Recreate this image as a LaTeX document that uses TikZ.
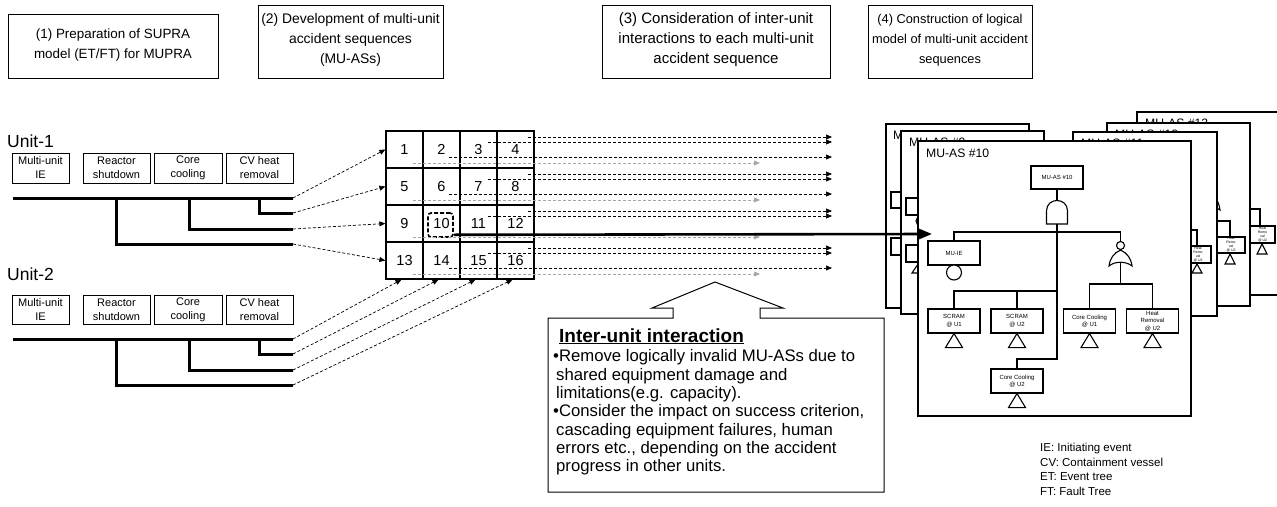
\documentclass[tikz,border=0pt]{standalone}
\usepackage{fontspec}
\setmainfont{Liberation Sans}
\usetikzlibrary{arrows.meta}
\begin{document}
\begin{tikzpicture}[x=1pt,y=-1pt,
  hdrbox/.style={draw, line width=1pt, inner sep=0pt},
  hdrtxt/.style={align=center, inner sep=0pt},
  unitlbl/.style={anchor=west, inner sep=0pt, font=\fontsize{17.5}{20}\selectfont},
  etbox/.style={draw, line width=0.9pt, align=center, inner sep=0pt, minimum height=30pt, font=\fontsize{11}{14}\selectfont},
  etline/.style={line width=3pt, line join=miter},
  cell/.style={draw, line width=1.2pt, minimum size=37pt, inner sep=0pt, font=\fontsize{14.5}{16}\selectfont},
  dasharr/.style={line width=0.7pt, dash pattern=on 3pt off 2pt, -{Triangle[length=6pt,width=5pt]}},
  greyarr/.style={dasharr, draw=black!35},
  frame/.style={draw, fill=white, line width=1.3pt},
  frlbl/.style={anchor=west, inner sep=0pt, font=\fontsize{12.2}{14}\selectfont},
  ftbox/.style={draw, fill=white, line width=1.1pt, align=center, inner sep=0pt, minimum width=52pt, minimum height=24pt, font=\fontsize{6}{7.5}\selectfont},
  ftline/.style={line width=1.1pt},
  tri/.style={draw, fill=white, line width=1.1pt, line join=miter},
  minibox/.style={draw, fill=white, line width=1.1pt, align=center, inner sep=0pt, font=\fontsize{3.5}{4}\selectfont}
]
\useasboundingbox (0,0) rectangle (1277,506);

% ---------- headers ----------
\node[hdrbox, minimum width=210pt, minimum height=64pt] (h1) at (113,46) {};
\node[hdrtxt, font=\fontsize{13.4}{20}\selectfont] (h1t) at (113,45) {(1) Preparation of SUPRA\\model (ET/FT) for MUPRA};
\node[hdrbox, minimum width=185pt, minimum height=73pt] (h2) at (350.5,41.5) {};
\node[hdrtxt, font=\fontsize{13.9}{20}\selectfont] (h2t) at (350.5,40) {(2) Development of multi-unit\\accident sequences\\(MU-ASs)};
\node[hdrbox, minimum width=228pt, minimum height=73pt] (h3) at (716,41.5) {};
\node[hdrtxt, font=\fontsize{15}{20}\selectfont] (h3t) at (716,40) {(3) Consideration of inter-unit\\interactions to each multi-unit\\accident sequence};
\node[hdrbox, minimum width=164pt, minimum height=73pt] (h4) at (950,41.5) {};
\node[hdrtxt, font=\fontsize{12.8}{20}\selectfont] (h4t) at (950,40) {(4) Construction of logical\\model of multi-unit accident\\sequences};

% ---------- event trees ----------
\node[unitlbl] (unit1) at (7,141) {Unit-1};
\node[unitlbl] (unit2) at (7,274.5) {Unit-2};

\node[etbox, minimum width=57pt] (u1a) at (40.5,168) {Multi-unit\\IE};
\node[etbox, minimum width=67pt] (u1b) at (116.5,168) {Reactor\\shutdown};
\node[etbox, minimum width=68pt] (u1c) at (188,168) {Core\\cooling};
\node[etbox, minimum width=67pt] (u1d) at (259.5,168) {CV heat\\removal};

\node[etbox, minimum width=57pt, minimum height=29pt] (u2a) at (40.5,309.5) {Multi-unit\\IE};
\node[etbox, minimum width=67pt, minimum height=29pt] (u2b) at (116.5,309.5) {Reactor\\shutdown};
\node[etbox, minimum width=68pt, minimum height=29pt] (u2c) at (188,309.5) {Core\\cooling};
\node[etbox, minimum width=67pt, minimum height=29pt] (u2d) at (259.5,309.5) {CV heat\\removal};

\coordinate (u1s) at (13,198);
\coordinate (u1e1) at (293,198);
\coordinate (u1e2) at (293,213);
\coordinate (u1e3) at (293,229);
\coordinate (u1e4) at (293,244);
\draw[etline] (u1s) -- (u1e1);
\draw[etline] (259,198) |- (u1e2);
\draw[etline] (189,198) |- (u1e3);
\draw[etline] (116,198) |- (u1e4);

\coordinate (u2s) at (13,339);
\coordinate (u2e1) at (293,339);
\coordinate (u2e2) at (293,354);
\coordinate (u2e3) at (293,370);
\coordinate (u2e4) at (293,385);
\draw[etline] (u2s) -- (u2e1);
\draw[etline] (259,339) |- (u2e2);
\draw[etline] (189,339) |- (u2e3);
\draw[etline] (116,339) |- (u2e4);

% ---------- grid ----------
\foreach \i in {0,...,3} {
  \foreach \j in {0,...,3} {
    \pgfmathtruncatemacro{\n}{4*\i+\j+1}
    \node[cell] (c\n) at ({404.5+37*\j},{149.5+37*\i}) {\n};
  }
}
\node[draw, dashed, dash pattern=on 4pt off 2pt, line width=1.6pt, rounded corners=3pt, minimum width=25pt, minimum height=24pt, inner sep=0pt] (c10box) at (440.5,225) {};

\draw[dasharr] (u1e1) -- (c1.west);
\draw[dasharr] (u1e2) -- (c5.west);
\draw[dasharr] (u1e3) -- (c9.west);
\draw[dasharr] (u1e4) -- (c13.west);
\draw[dasharr] (u2e1) -- ([xshift=-3pt]c13.south);
\draw[dasharr] (u2e2) -- ([xshift=-3pt]c14.south);
\draw[dasharr] (u2e3) -- ([xshift=-3pt]c15.south);
\draw[dasharr] (u2e4) -- ([xshift=-3pt]c16.south);

\foreach \T [count=\r] in {131,168,205,242} {
  \draw[dasharr] (528,{\T+6}) -- (832,{\T+6});
  \draw[dasharr] (488,{\T+11}) -- (832,{\T+11});
  \ifnum\r=3\relax\else
    \draw[dasharr] (449,{\T+26}) -- (832,{\T+26});
  \fi
  \draw[greyarr] (413,{\T+32}) -- (760,{\T+32});
}

% ---------- callout ----------
\draw[line width=1pt, fill=white, line join=miter] (548,318) -- (673,318) -- (673,308) -- (652,308) -- (715,282) -- (783,308) -- (760,308) -- (760,318) -- (884,318) -- (884,492) -- (548,492) -- cycle;
\node[anchor=base west, inner sep=0pt, font=\bfseries\fontsize{19}{21}\selectfont] (cotitle) at (559,342) {\underline{Inter-unit interaction}};
\node[anchor=north west, align=left, inner sep=0pt, font=\fontsize{16.7}{18.3}\selectfont] (cobody) at (553,349.5) {•Remove logically invalid MU-ASs due to\\
\hspace*{3pt}shared equipment damage and\\
\hspace*{3pt}limitations(e.g. capacity).\\
•Consider the impact on success criterion,\\
\hspace*{3pt}cascading equipment failures, human\\
\hspace*{3pt}errors etc., depending on the accident\\
\hspace*{3pt}progress in other units.};

% ---------- stacked fault-tree frames ----------
% #13
\draw[frame] (1137,112) rectangle (1295,295);
\node[frlbl] (l13) at (1145,123) {MU-AS \#13};
\draw[ftline] (1260,226) -- (1260,209) -- (1240,209);
\node[minibox, minimum width=25pt, minimum height=17pt] (m13) at (1262.5,234.5) {Heat\\Remo\\val\\@ U2};
\draw[tri] (1262,244) -- (1267,254) -- (1257,254) -- cycle;
% #12
\draw[frame] (1107,123) rectangle (1250,306);
\node[frlbl] (l12) at (1115,134) {MU-AS \#12};
\draw[ftline] (1230,237) -- (1230,221) -- (1205,221);
\draw[ftline, fill=white] (1207,210) .. controls (1208,203) and (1210,199) .. (1213.5,197) .. controls (1217,199) and (1219,203) .. (1220,210) .. controls (1217,207) and (1210,207) .. (1207,210) -- cycle;
\node[minibox, minimum width=28pt, minimum height=16pt] (m12) at (1231,245) {Heat\\Remo\\val\\@ U2};
\draw[tri] (1230,254) -- (1235,264) -- (1225,264) -- cycle;
% #11
\draw[frame] (1073,132) rectangle (1217,316);
\node[frlbl] (l11) at (1081,143) {MU-AS \#11};
\draw[ftline] (1197,246) -- (1197,230) -- (1170,230);
\node[minibox, minimum width=26pt, minimum height=17pt] (m11) at (1198,254.5) {Heat\\Remo\\val\\@ U2};
\draw[tri] (1197,264) -- (1202,273) -- (1192,273) -- cycle;
% #8
\draw[frame] (886,124) rectangle (1029,308);
\node[frlbl] (l8) at (893,135) {MU-AS \#8};
\node[minibox, minimum width=24pt, minimum height=16pt] (m8a) at (903,200) {};
\node[minibox, minimum width=24pt, minimum height=17pt] (m8b) at (903,246.5) {};
% #9
\draw[frame] (901,131) rectangle (1044,314);
\node[frlbl] (l9) at (909,142) {MU-AS \#9};
\node[minibox, minimum width=34pt, minimum height=17pt] (m9a) at (923,206.5) {};
\draw[ftline, fill=white] (921,221) circle[radius=5];
\node[minibox, minimum width=34pt, minimum height=17pt] (m9b) at (923,253.5) {};
\draw[tri] (918,264) -- (924,273) -- (912,273) -- cycle;

% #10 (front)
\draw[frame] (918,141) rectangle (1191,416);
\node[frlbl] (l10) at (926,153) {MU-AS \#10};

\node[ftbox, minimum height=23pt] (topev) at (1057,177.5) {MU-AS \#10};
% AND gate
\draw[ftline, fill=white] (1046.5,224) -- (1046.5,211) .. controls (1046.5,197) and (1067.5,197) .. (1067.5,211) -- (1067.5,224) -- cycle;
\coordinate (andtop) at (1057,200.5);
\coordinate (andbot) at (1057,224);
\draw[ftline] (topev.south) -- (andtop);

\node[ftbox] (mie) at (954,253) {MU-IE};
\draw[ftline, fill=white] (954,272.5) circle[radius=7.5];

% OR gate
\draw[ftline, fill=white] (1109,266) .. controls (1110,258) and (1114,253) .. (1120.5,250) .. controls (1127,253) and (1131,258) .. (1132,266) .. controls (1126,261) and (1115,261) .. (1109,266) -- cycle;
\draw[ftline, fill=white] (1120.5,245.5) circle[radius=4];
\coordinate (ortop) at (1120.5,241.5);
\coordinate (orbot) at (1120.5,262.5);

\node[ftbox] (su1) at (954,321) {SCRAM\\@ U1};
\node[ftbox] (su2) at (1017,321) {SCRAM\\@ U2};
\node[ftbox] (ccu1) at (1089.5,321) {Core Cooling\\@ U1};
\node[ftbox] (hru2) at (1152.5,321) {Heat\\Removal\\@ U2};
\node[ftbox] (ccu2) at (1017,381) {Core Cooling\\@ U2};

% connections
\draw[ftline] (andbot) -- (1057,359) -| (ccu2.north);
\draw[ftline] (mie.north) |- (1120.5,232) -- (ortop);
\draw[ftline] (su1.north) |- (1057,291);
\draw[ftline] (su2.north) -- (1017,291);
\draw[ftline] (orbot) -- (1120.5,284);
\draw[ftline] (ccu1.north) |- (hru2.north |- 0,284) -- (hru2.north);

% undeveloped-event triangles
\foreach \b in {su1,su2,ccu1,hru2,ccu2} {
  \draw[tri] (\b.south) -- ++(8.5,14) -- ++(-17,0) -- cycle;
}

% thick arrow from MU-AS #10 cell
\coordinate (ftin) at (932,234);
\draw[line width=2.6pt, -{Triangle[length=13pt,width=10pt]}] ([yshift=3pt]c10box.south east) -- (ftin);

% ---------- legend ----------
\node[anchor=north west, align=left, inner sep=0pt, font=\fontsize{11.5}{14.5}\selectfont] (legend) at (1040,443) {IE: Initiating event\\CV: Containment vessel\\ET: Event tree\\FT: Fault Tree};
\end{tikzpicture}
\end{document}
